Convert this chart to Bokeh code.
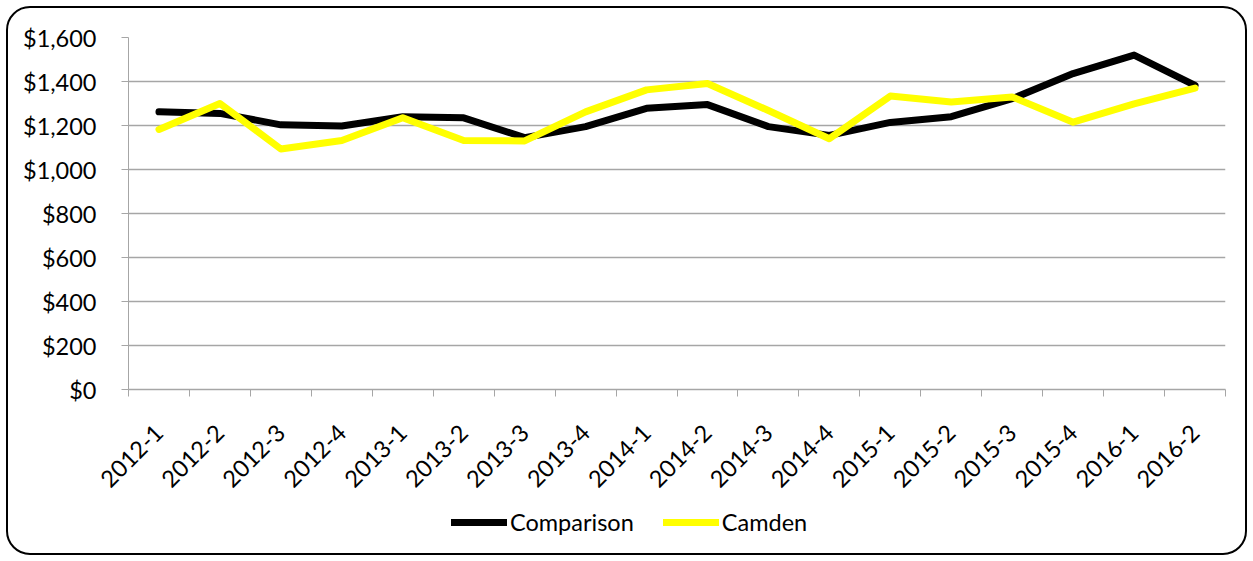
from bokeh.plotting import figure
from bokeh.layouts import column
from bokeh.models import FixedTicker, Legend, LegendItem, Range1d
from bokeh.embed import file_html
from bokeh.resources import INLINE
import math

# Quarterly average values, 2012 Q1 .. 2016 Q2
quarters = ["2012-1", "2012-2", "2012-3", "2012-4",
            "2013-1", "2013-2", "2013-3", "2013-4",
            "2014-1", "2014-2", "2014-3", "2014-4",
            "2015-1", "2015-2", "2015-3", "2015-4",
            "2016-1", "2016-2"]
comparison = [1262, 1255, 1203, 1198, 1240, 1235, 1145, 1195, 1278,
              1295, 1195, 1155, 1214, 1240, 1322, 1436, 1520, 1382]
camden = [1182, 1300, 1093, 1132, 1235, 1132, 1130, 1262, 1362,
          1391, 1268, 1140, 1334, 1307, 1330, 1215, 1298, 1370]
y_ticks = [0, 200, 400, 600, 800, 1000, 1200, 1400, 1600]

FONT = "Lato"
FONT_SIZE = "23.5px"
GRID = "#A6A6A6"
SERIES = [("Comparison", "black", comparison), ("Camden", "#FFFF00", camden)]

x = [i + 0.5 for i in range(len(quarters))]

p = figure(width=1253, height=500, output_backend="svg", toolbar_location=None,
           x_range=Range1d(0, len(quarters)), y_range=Range1d(0, 1600),
           min_border_left=128, min_border_right=28, min_border_top=37,
           min_border_bottom=111)
p.outline_line_color = None
p.background_fill_color = None
p.border_fill_color = None

for name, color, values in SERIES:
    p.line(x, values, line_color=color, line_width=7,
           line_join="round", line_cap="round")

# y axis: dollar labels, outward ticks
p.yaxis.ticker = FixedTicker(ticks=y_ticks)
p.yaxis.major_label_overrides = {v: f"${v:,}" for v in y_ticks}
p.yaxis.axis_line_color = GRID
p.yaxis.major_tick_line_color = GRID
p.yaxis.major_tick_out = 7
p.yaxis.major_tick_in = 0
p.yaxis.minor_tick_line_color = None
p.yaxis.major_label_standoff = 25
p.yaxis.major_label_text_font = FONT
p.yaxis.major_label_text_font_size = FONT_SIZE
p.yaxis.major_label_text_color = "black"

# x axis: labels at category centres, tick marks at category boundaries
p.xaxis.ticker = FixedTicker(ticks=x, minor_ticks=list(range(len(quarters) + 1)))
p.xaxis.major_label_overrides = {xi: q for xi, q in zip(x, quarters)}
p.xaxis.major_label_orientation = math.pi / 4
p.xaxis.axis_line_color = GRID
p.xaxis.axis_line_width = 1.3
p.xaxis.major_tick_line_color = None
p.xaxis.minor_tick_line_color = GRID
p.xaxis.minor_tick_out = 7
p.xaxis.minor_tick_in = 0
p.xaxis.major_label_standoff = 32
p.xaxis.major_label_text_font = FONT
p.xaxis.major_label_text_font_size = FONT_SIZE
p.xaxis.major_label_text_color = "black"

p.xgrid.grid_line_color = None
p.ygrid.grid_line_color = GRID
p.ygrid.grid_line_width = 1.3

# legend strip under the chart (its series points fall outside its ranges,
# so only the legend swatches show)
leg = figure(width=1253, height=61, output_backend="svg", toolbar_location=None,
             x_range=Range1d(0, 1), y_range=Range1d(0, 1),
             x_axis_location=None, y_axis_location=None, min_border=0)
leg.outline_line_color = None
leg.grid.grid_line_color = None
leg.background_fill_color = None
leg.border_fill_color = None
items = []
for name, color, values in SERIES:
    r = leg.line(x[:1], values[:1], line_color=color, line_width=7,
                 line_join="round", line_cap="round")
    items.append(LegendItem(label=name, renderers=[r]))
legend = Legend(items=items, orientation="horizontal", location=(323, 25),
                border_line_color=None, background_fill_alpha=0,
                glyph_width=56, glyph_height=26, label_standoff=3,
                spacing=29, padding=0, margin=0,
                label_text_font=FONT, label_text_font_size=FONT_SIZE,
                label_text_color="black")
leg.add_layout(legend, "center")

layout = column(p, leg, spacing=0)
# white chart area with a rounded border
layout.styles = {"background-color": "white", "outline": "2px solid black",
                 "outline-offset": "-8px", "border-radius": "30px"}

open("out.html", "w").write(file_html(layout, INLINE))
